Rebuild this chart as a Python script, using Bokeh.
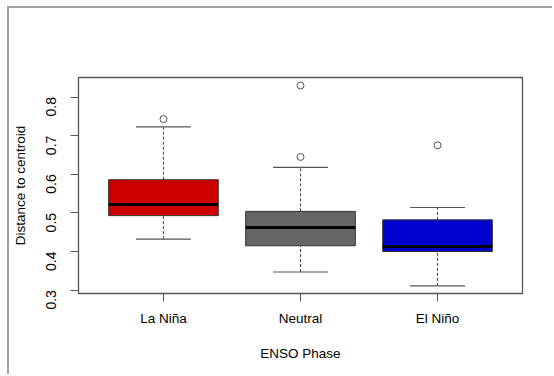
import math
from bokeh.plotting import figure
from bokeh.models import FixedTicker, Range1d, ColumnDataSource
from bokeh.embed import file_html
from bokeh.resources import INLINE

# ---- data ----
categories = ["La Niña", "Neutral", "El Niño"]
lower_whisker = [0.432, 0.347, 0.311]
q1 = [0.493, 0.415, 0.400]
median = [0.522, 0.462, 0.413]
q3 = [0.586, 0.504, 0.482]
upper_whisker = [0.723, 0.618, 0.514]
box_colors = ["#CC0000", "#666666", "#0000CC"]
outlier_group = [0, 1, 1, 2]
outlier_value = [0.743, 0.830, 0.645, 0.675]
y_ticks = [0.3, 0.4, 0.5, 0.6, 0.7, 0.8]

FONT = "Liberation Sans"
pos = [i + 1 for i in range(len(categories))]
bw = 0.4   # half box width
cw = 0.2   # half cap width

src = ColumnDataSource(dict(
    x=pos,
    xl=[p_ - bw for p_ in pos], xr=[p_ + bw for p_ in pos],
    cl=[p_ - cw for p_ in pos], cr=[p_ + cw for p_ in pos],
    lw=lower_whisker, q1=q1, med=median, q3=q3, uw=upper_whisker,
    color=box_colors,
))
out_src = ColumnDataSource(dict(
    x=[pos[g] for g in outlier_group], y=outlier_value,
))

p = figure(width=545, height=368, output_backend="svg", toolbar_location=None,
           x_range=Range1d(0.38, 3.62), y_range=Range1d(0.2913, 0.8507),
           min_border_left=69, min_border_top=69, min_border_right=32,
           min_border_bottom=83)
p.styles = {"margin-top": "6px", "margin-left": "7px",
            "border-top": "2px solid #A0A0A0", "border-left": "2px solid #A0A0A0"}

p.grid.visible = False
p.outline_line_color = "#555555"
p.outline_line_width = 1.3
p.background_fill_color = "white"
p.border_fill_color = "white"

# whiskers (dashed)
p.segment(x0="x", y0="q3", x1="x", y1="uw", source=src, line_color="#444444",
          line_dash="3 2", line_width=1)
p.segment(x0="x", y0="lw", x1="x", y1="q1", source=src, line_color="#444444",
          line_dash="3 2", line_width=1)
# caps
p.segment(x0="cl", y0="uw", x1="cr", y1="uw", source=src, line_color="#555555", line_width=1.2)
p.segment(x0="cl", y0="lw", x1="cr", y1="lw", source=src, line_color="#555555", line_width=1.2)
# boxes
p.vbar(x="x", width=2 * bw, top="q3", bottom="q1", source=src, fill_color="color",
       line_color="#333333", line_width=1)
# medians
p.segment(x0="xl", y0="med", x1="xr", y1="med", source=src, line_color="black", line_width=3)
# outliers
p.scatter(x="x", y="y", source=out_src, marker="circle", size=7, fill_color=None,
          line_color="#555555", line_width=1)

# axes
p.xaxis.ticker = FixedTicker(ticks=pos)
p.xaxis.major_label_overrides = {pos[i]: c for i, c in enumerate(categories)}
p.yaxis.ticker = FixedTicker(ticks=y_ticks)
p.yaxis.major_label_overrides = {v: f"{v:.1f}" for v in y_ticks}
p.yaxis.major_label_orientation = math.pi / 2
for ax in (p.xaxis[0], p.yaxis[0]):
    ax.axis_line_color = None
    ax.major_tick_in = 0
    ax.major_tick_out = 8
    ax.major_tick_line_color = "#555555"
    ax.minor_tick_line_color = None
    ax.major_label_text_font = FONT
    ax.major_label_text_color = "black"
    ax.axis_label_text_font = FONT
    ax.axis_label_text_font_size = "13.5px"
    ax.axis_label_text_font_style = "normal"
    ax.axis_label_text_color = "black"
p.xaxis.major_label_text_font_size = "13.5px"
p.yaxis.major_label_text_font_size = "14px"
p.xaxis.axis_label = "ENSO Phase"
p.yaxis.axis_label = "Distance to centroid"
p.xaxis.major_label_standoff = 9
p.xaxis.axis_label_standoff = 17
p.yaxis.major_label_standoff = 19
p.yaxis.axis_label_standoff = 11

open("out.html", "w").write(file_html(p, INLINE))
